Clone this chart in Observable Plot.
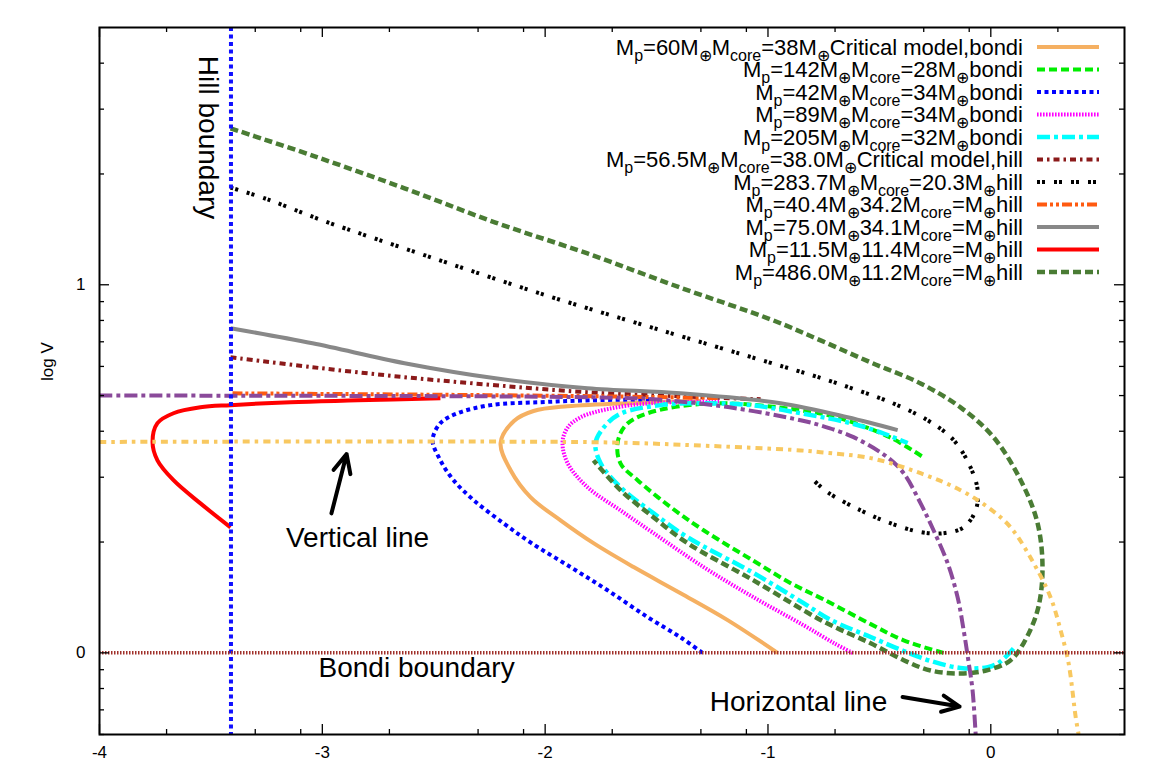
<!DOCTYPE html>
<html>
<head>
<meta charset="utf-8">
<script src="https://cdn.jsdelivr.net/npm/d3@7"></script>
<script src="https://cdn.jsdelivr.net/npm/@observablehq/plot@0.6"></script>
<style>
  html, body { margin: 0; padding: 0; background: #fff; }
  #chart svg { display: block; }
</style>
</head>
<body>
<div id="chart"></div>
<script>
// ---------------- data (x = log r, y = log V) ----------------
const bondi60 = [[-0.957,0],[-1.181,0.089],[-1.392,0.162],[-1.603,0.233],[-1.783,0.298],[-1.931,0.360],[-2.066,0.423],[-2.155,0.496],[-2.200,0.570],[-2.140,0.630],[-2.052,0.657],[-1.900,0.670],[-1.600,0.679],[-1.300,0.684]];
const bondi142 = [[-0.212,0],[-0.391,0.034],[-0.539,0.078],[-0.750,0.145],[-0.900,0.190],[-1.065,0.250],[-1.289,0.333],[-1.437,0.396],[-1.585,0.469],[-1.662,0.515],[-1.675,0.570],[-1.639,0.618],[-1.540,0.651],[-1.244,0.678],[-0.854,0.659],[-0.692,0.640],[-0.454,0.586],[-0.302,0.531]];
const bondi42 = [[-1.294,0],[-1.392,0.042],[-1.540,0.097],[-1.720,0.170],[-1.886,0.233],[-2.066,0.300],[-2.187,0.352],[-2.321,0.415],[-2.411,0.469],[-2.470,0.523],[-2.505,0.578],[-2.470,0.624],[-2.393,0.651],[-2.245,0.673],[-2.021,0.681],[-1.796,0.686],[-1.527,0.689]];
const bondi89 = [[-0.620,0],[-0.700,0.025],[-0.840,0.075],[-1.065,0.151],[-1.289,0.233],[-1.513,0.325],[-1.662,0.387],[-1.810,0.450],[-1.899,0.515],[-1.922,0.572],[-1.899,0.612],[-1.841,0.640],[-1.706,0.664],[-1.527,0.678],[-1.213,0.683]];
const bondi205 = [[0.102,0.012],[0.040,-0.025],[-0.014,-0.039],[-0.136,-0.041],[-0.270,-0.022],[-0.391,0.005],[-0.539,0.043],[-0.720,0.090],[-0.840,0.135],[-1.065,0.217],[-1.361,0.314],[-1.513,0.379],[-1.662,0.450],[-1.751,0.515],[-1.774,0.570],[-1.729,0.618],[-1.657,0.651],[-1.482,0.673],[-1.334,0.678],[-1.078,0.673],[-0.854,0.651],[-0.629,0.624],[-0.495,0.599],[-0.373,0.570]];
const hill56 = [[-3.412,0.803],[-3.044,0.776],[-2.631,0.749],[-2.223,0.727],[-1.810,0.708],[-1.392,0.697],[-1.033,0.689]];
const hill283 = [[-3.412,1.264],[-3.250,1.233],[-3.000,1.175],[-2.500,1.072],[-2.000,0.972],[-1.500,0.880],[-1.000,0.790],[-0.764,0.747],[-0.616,0.717],[-0.463,0.684],[-0.284,0.632],[-0.167,0.578],[-0.091,0.504],[-0.059,0.442],[-0.068,0.387],[-0.122,0.341],[-0.212,0.325],[-0.315,0.328],[-0.463,0.355],[-0.584,0.387],[-0.732,0.436],[-0.804,0.474]];
const hill40 = [[-3.403,0.705],[-2.649,0.702],[-1.751,0.697],[-1.213,0.692]];
const hill75 = [[-3.412,0.882],[-3.044,0.841],[-2.631,0.787],[-2.223,0.746],[-1.810,0.719],[-1.392,0.705],[-0.943,0.678],[-0.643,0.640],[-0.418,0.605]];
const hill11 = [[-3.412,0.341],[-3.547,0.406],[-3.668,0.469],[-3.740,0.523],[-3.762,0.572],[-3.740,0.624],[-3.668,0.651],[-3.547,0.667],[-3.412,0.673],[-3.143,0.681],[-2.842,0.686],[-2.470,0.692]];
const hill486 = [[-3.412,1.425],[-3.044,1.351],[-2.631,1.262],[-2.223,1.169],[-1.810,1.085],[-1.397,0.993],[-0.984,0.905],[-0.764,0.849],[-0.539,0.789],[-0.315,0.732],[-0.136,0.667],[0.012,0.586],[0.134,0.469],[0.210,0.352],[0.232,0.225],[0.210,0.116],[0.147,0.026],[0.089,-0.020],[-0.014,-0.047],[-0.136,-0.056],[-0.270,-0.048],[-0.391,-0.020],[-0.539,0.026],[-0.750,0.085],[-1.065,0.197],[-1.361,0.298],[-1.513,0.368],[-1.662,0.442],[-1.783,0.523]];
const horizontalLine = [[-4,0.699],[-1.751,0.694],[-1.496,0.688],[-1.172,0.667],[-0.854,0.632],[-0.764,0.618],[-0.616,0.586],[-0.463,0.531],[-0.391,0.488],[-0.315,0.406],[-0.257,0.333],[-0.194,0.244],[-0.149,0.151],[-0.122,0.062],[-0.099,-0.028],[-0.082,-0.101],[-0.068,-0.221]];
const verticalLine = [[-4,0.573],[-1.751,0.572],[-1.334,0.564],[-0.854,0.550],[-0.764,0.545],[-0.539,0.529],[-0.315,0.488],[-0.136,0.442],[-0.014,0.396],[0.089,0.341],[0.192,0.244],[0.268,0.151],[0.313,0.062],[0.349,-0.028],[0.381,-0.175],[0.394,-0.221]];

const hillBoundaryX = [-3.41];
const bondiBoundaryY = [0];

const legendLabels = [
  "M_{p}=60M_{⊕}M_{core}=38M_{⊕}Critical model,bondi",
  "M_{p}=142M_{⊕}M_{core}=28M_{⊕}bondi",
  "M_{p}=42M_{⊕}M_{core}=34M_{⊕}bondi",
  "M_{p}=89M_{⊕}M_{core}=34M_{⊕}bondi",
  "M_{p}=205M_{⊕}M_{core}=32M_{⊕}bondi",
  "M_{p}=56.5M_{⊕}M_{core}=38.0M_{⊕}Critical model,hill",
  "M_{p}=283.7M_{⊕}M_{core}=20.3M_{⊕}hill",
  "M_{p}=40.4M_{⊕}34.2M_{core}=M_{⊕}hill",
  "M_{p}=75.0M_{⊕}34.1M_{core}=M_{⊕}hill",
  "M_{p}=11.5M_{⊕}11.4M_{core}=M_{⊕}hill",
  "M_{p}=486.0M_{⊕}11.2M_{core}=M_{⊕}hill"
];

const xMajorTicks = [-4, -3, -2, -1, 0];
const xMinorMultipliers = [2, 5, 8];
const yMajorTicks = [0, 1];
const yMinorValues = [0.6, 0.7, 0.8, 0.9, 2, 3, 4, 5, 6, 7, 8, 9, 20, 30, 40];
const yAxisTitle = "log V";

const annotations = [
  {text: "Hill boundary", x: -3.511, y: 1.40, rotate: 90},
  {text: "Vertical line", x: -2.842, y: 0.311, rotate: 0},
  {text: "Bondi boundary", x: -2.577, y: -0.042, rotate: 0},
  {text: "Horizontal line", x: -0.863, y: -0.134, rotate: 0}
];
const arrows = [
  {x1: -2.959, y1: 0.379, x2: -2.891, y2: 0.540},
  {x1: -0.396, y1: -0.120, x2: -0.140, y2: -0.146}
];

// ---------------- styles ----------------
const seriesList = [
  {data: bondi60,  color: "#f5b062", dash: null,            width: 4},
  {data: bondi142, color: "#00ee00", dash: "8,4",           width: 4},
  {data: bondi42,  color: "#0000ff", dash: "4,3.5",         width: 4},
  {data: bondi89,  color: "#ff00ff", dash: "1.6,1.4",       width: 4},
  {data: bondi205, color: "#00ffff", dash: "13,4,4,4",      width: 4.5},
  {data: hill56,   color: "#8b1a1a", dash: "6,4,2.5,4",     width: 4},
  {data: hill283,  color: "#000000", dash: "3,2,3,9",       width: 4},
  {data: hill40,   color: "#ff5a10", dash: "10,3,3,3,3,3",  width: 4},
  {data: hill75,   color: "#888888", dash: null,            width: 4},
  {data: hill11,   color: "#ff0000", dash: null,            width: 4},
  {data: hill486,  color: "#4a7c34", dash: "8,4",           width: 4.5}
];
const extraLines = [
  {data: horizontalLine, color: "#8a4a9a", dash: "13,4,4,4", width: 4},
  {data: verticalLine,   color: "#f8c860", dash: "7,5,3.5,5", width: 4}
];

const FONT = "'Liberation Sans', Arial, sans-serif";
const W = 1170, H = 765;
const mL = 99, mR = 46, mT = 27, mB = 31;
const frameW = W - mL - mR, frameH = H - mT - mB;

const xMinorTicks = [];
for (const d of [-4, -3, -2, -1, 0]) for (const k of xMinorMultipliers) {
  const v = d + Math.log10(k);
  if (v <= 0.6) xMinorTicks.push(v);
}
const yMinorTicks = yMinorValues.map(Math.log10);

const lineMark = s => Plot.line(s.data, {
  x: d => d[0], y: d => d[1], stroke: s.color, strokeWidth: s.width,
  strokeDasharray: s.dash || undefined, strokeLinecap: "butt", strokeLinejoin: "round",
  curve: "catmull-rom", clip: true
});

const tickOpts = {stroke: "black", strokeWidth: 1.3};

const chart = Plot.plot({
  width: W, height: H,
  marginLeft: mL, marginRight: mR, marginTop: mT, marginBottom: mB,
  x: {domain: [-4, 0.6]},
  y: {domain: [Math.log10(0.6), Math.log10(50)]},
  style: {fontFamily: FONT, fontSize: "17px", color: "black", background: "white"},
  marks: [
    ...seriesList.map(lineMark),
    ...extraLines.map(lineMark),
    Plot.ruleX(hillBoundaryX, {stroke: "#1010ff", strokeWidth: 4, strokeDasharray: "4,3.5", strokeLinecap: "butt"}),
    Plot.ruleY(bondiBoundaryY, {stroke: "#a0302a", strokeWidth: 3.5, strokeDasharray: "1.5,1.5", strokeLinecap: "butt"}),
    // ticks (inward, mirrored)
    Plot.tickX(xMajorTicks, {x: d => d, insetTop: frameH - 10, ...tickOpts}),
    Plot.tickX(xMajorTicks, {x: d => d, insetBottom: frameH - 10, ...tickOpts}),
    Plot.tickX(xMinorTicks, {x: d => d, insetTop: frameH - 5, ...tickOpts}),
    Plot.tickX(xMinorTicks, {x: d => d, insetBottom: frameH - 5, ...tickOpts}),
    Plot.tickY(yMajorTicks, {y: d => d, insetRight: frameW - 10, ...tickOpts}),
    Plot.tickY(yMajorTicks, {y: d => d, insetLeft: frameW - 10, ...tickOpts}),
    Plot.tickY(yMinorTicks, {y: d => d, insetRight: frameW - 5, ...tickOpts}),
    Plot.tickY(yMinorTicks, {y: d => d, insetLeft: frameW - 5, ...tickOpts}),
    Plot.axisX(xMajorTicks, {anchor: "bottom", tickSize: 0, tickPadding: 11, tickFormat: d => String(d), label: null, fontSize: 17}),
    Plot.axisY(yMajorTicks, {anchor: "left", tickSize: 0, tickPadding: 14, tickFormat: d => String(d), label: null, fontSize: 17}),
    Plot.text([yAxisTitle], {text: d => d, frameAnchor: "left", dx: -52, rotate: -90, fontSize: 17, fill: "black"}),
    Plot.frame({stroke: "black", strokeWidth: 2}),
    // annotations
    Plot.text(annotations, {x: "x", y: "y", text: "text", rotate: "rotate", fontSize: 28, fill: "black"}),
    Plot.arrow(arrows, {x1: "x1", y1: "y1", x2: "x2", y2: "y2", stroke: "black", strokeWidth: 4, headLength: 14, headAngle: 50})
  ]
});

document.getElementById("chart").appendChild(chart);

// ---------------- legend (inside the plot, top right) ----------------
const svg = d3.select(chart);
const lg = svg.append("g").attr("font-family", FONT).attr("font-size", 22).attr("fill", "black");
function richText(textSel, label) {
  const parts = label.split(/_\{([^}]*)\}/);
  let sub = false;
  parts.forEach((p, i) => {
    const isSub = i % 2 === 1;
    if (!p) return;
    const t = textSel.append("tspan").text(p);
    if (isSub && !sub) { t.attr("dy", 6).attr("font-size", 16); sub = true; }
    else if (isSub) { t.attr("font-size", 16); }
    else if (!isSub && sub) { t.attr("dy", -6); sub = false; }
  });
}
seriesList.forEach((s, i) => {
  const y = 47 + i * 22.5;
  const t = lg.append("text").attr("x", 1023).attr("y", y).attr("dy", "0.35em").attr("text-anchor", "end");
  richText(t, legendLabels[i]);
  lg.append("line").attr("x1", 1037).attr("x2", 1099).attr("y1", y).attr("y2", y)
    .attr("stroke", s.color).attr("stroke-width", s.width)
    .attr("stroke-dasharray", s.dash || null);
});
</script>
</body>
</html>
